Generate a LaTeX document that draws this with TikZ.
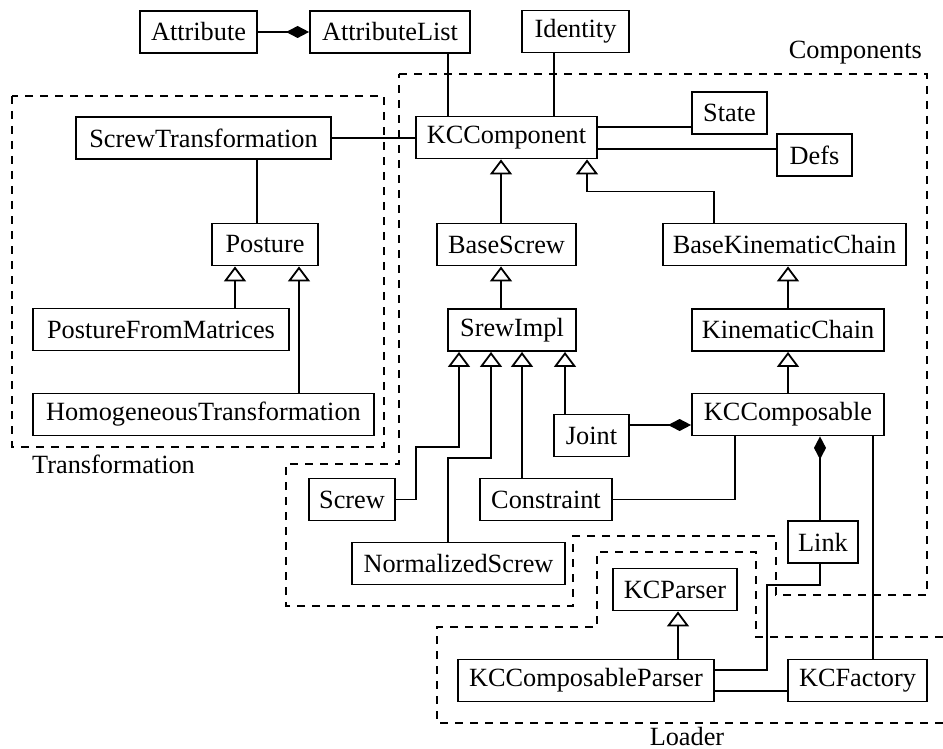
\documentclass[tikz,border=0pt]{standalone}
\usepackage{fontspec}
\setmainfont{Liberation Serif}
\usepackage{tikz}
\usetikzlibrary{arrows.meta, calc}

\begin{document}
\begin{tikzpicture}[x=1pt, y=-1pt,
    cls/.style={draw, line width=1.8pt, inner sep=0pt, minimum height=42pt,
                font=\fontsize{26.3}{30}\selectfont},
    pkg/.style={inner sep=0pt, font=\fontsize{26.3}{30}\selectfont},
    assoc/.style={line width=1.8pt},
    inherit/.style={line width=1.8pt, -{Triangle[open, length=15pt, width=22pt]}},
    compose/.style={line width=1.8pt, -{Diamond[length=23pt, width=12pt]}},
    region/.style={line width=1.6pt, dash pattern=on 8pt off 7pt}]
    \useasboundingbox (0,0) rectangle (943,749);

    % packages
    \draw[region] (12,96) rectangle (384,447);
    \draw[region] (399,74) -- (927,74) -- (927,595) -- (776,595) -- (776,536)
        -- (573,536) -- (573,606) -- (286,606) -- (286,464) -- (399,464) -- cycle;
    \draw[region] (943,637) -- (756,637) -- (756,552) -- (597,552) -- (597,627)
        -- (437,627) -- (437,723) -- (943,723);
    \node[pkg, anchor=east] (complabel) at (922,53) {Components};
    \node[pkg, anchor=west] (tflabel) at (32,464) {Transformation};
    \node[pkg] (loadlabel) at (687,736) {Loader};

    % classes
    \node[cls, minimum width=117pt] (attr) at (198.5,32) {Attribute};
    \node[cls, minimum width=160pt] (attrlist) at (390,32) {AttributeList};
    \node[cls, minimum width=107pt] (identity) at (575.5,31.5) {Identity};
    \node[cls, minimum width=181pt] (kccomp) at (506.5,137.5) {KCComponent};
    \node[cls, minimum width=75pt] (state) at (729.5,113) {State};
    \node[cls, minimum width=75pt] (defs) at (814.5,155) {Defs};
    \node[cls, minimum width=255pt] (screwtf) at (203.5,138) {ScrewTransformation};
    \node[cls, minimum width=106pt] (posture) at (265,244.5) {Posture};
    \node[cls, minimum width=256pt] (pfm) at (161,329.5) {PostureFromMatrices};
    \node[cls, minimum width=341pt] (homog) at (203.5,414.5) {HomogeneousTransformation};
    \node[cls, minimum width=139pt] (basescrew) at (506.5,244.5) {BaseScrew};
    \node[cls, minimum width=243pt] (bkc) at (784.5,244.5) {BaseKinematicChain};
    \node[cls, minimum width=128pt] (srewimpl) at (512,330) {SrewImpl};
    \node[cls, minimum width=192pt] (kinchain) at (788,330) {KinematicChain};
    \node[cls, minimum width=192pt] (kccomposable) at (788,414.5) {KCComposable};
    \node[cls, minimum width=75pt] (joint) at (591.5,435.5) {Joint};
    \node[cls, minimum width=132pt] (constraint) at (546,499.5) {Constraint};
    \node[cls, minimum width=86pt] (screw) at (352,499.5) {Screw};
    \node[cls, minimum width=213pt] (normscrew) at (458.5,563.5) {NormalizedScrew};
    \node[cls, minimum width=70pt] (link) at (823,542) {Link};
    \node[cls, minimum width=124pt] (kcparser) at (675,589.5) {KCParser};
    \node[cls, minimum width=256pt] (kccparser) at (586,680.5) {KCComposableParser};
    \node[cls, minimum width=139pt] (kcfactory) at (857.5,680.5) {KCFactory};

    % relations
    \draw[compose] (attr.east) -- (attrlist.west);
    \draw[assoc] (attrlist.south -| 448,0) -- (kccomp.north -| 448,0);
    \draw[assoc] (identity.south -| 554,0) -- (kccomp.north -| 554,0);
    \draw[assoc] (kccomp.east |- 0,127) -- (state.west |- 0,127);
    \draw[assoc] (kccomp.east |- 0,149) -- (defs.west |- 0,149);
    \draw[assoc] (screwtf.east) -- (kccomp.west |- screwtf.east);
    \draw[assoc] (screwtf.south -| 257,0) -- (posture.north -| 257,0);
    \draw[inherit] (pfm.north -| 235,0) -- (posture.south -| 235,0);
    \draw[inherit] (homog.north -| 299,0) -- (posture.south -| 299,0);
    \draw[inherit] (basescrew.north -| 501,0) -- (kccomp.south -| 501,0);
    \draw[inherit] (bkc.north -| 714,0) -- ++(0,-31) -| (kccomp.south -| 587,0);
    \draw[inherit] (srewimpl.north -| 501,0) -- (basescrew.south -| 501,0);
    \draw[inherit] (kinchain.north) -- (bkc.south -| kinchain.north);
    \draw[inherit] (kccomposable.north) -- (kinchain.south);
    \draw[inherit] (joint.north -| 565,0) -- (srewimpl.south -| 565,0);
    \draw[compose] (joint.east |- 0,425) -- (kccomposable.west |- 0,425);
    \draw[inherit] (constraint.north -| 522,0) -- (srewimpl.south -| 522,0);
    \draw[assoc] (constraint.east) -| (kccomposable.south -| 735,0);
    \draw[inherit] (screw.east) -| (416,447) -| (srewimpl.south -| 459,0);
    \draw[inherit] (normscrew.north -| 448,0) -- ++(0,-84) -| (srewimpl.south -| 491,0);
    \draw[compose] (link.north -| 820,0) -- (kccomposable.south -| 820,0);
    \draw[assoc] (link.south -| 820,0) -- ++(0,21) -| (767,670) -- (kccparser.east |- 0,670);
    \draw[assoc] (kcfactory.north -| 873,0) -- (kccomposable.south -| 873,0);
    \draw[assoc] (kccparser.east |- 0,691) -- (kcfactory.west |- 0,691);
    \draw[inherit] (kccparser.north -| 678,0) -- (kcparser.south -| 678,0);
\end{tikzpicture}
\end{document}
